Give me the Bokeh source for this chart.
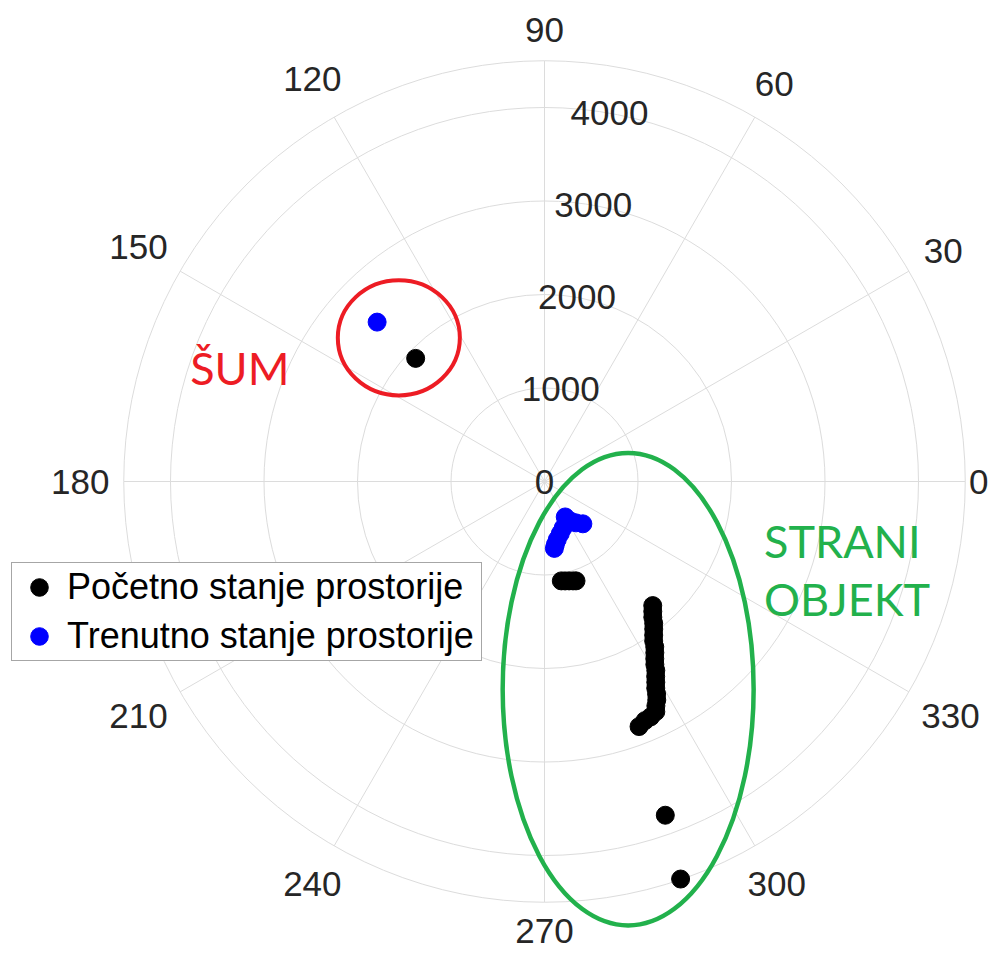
import numpy as np
from bokeh.plotting import figure
from bokeh.models import Range1d, Legend, LegendItem
from bokeh.core.properties import value
from bokeh.embed import file_html
from bokeh.resources import INLINE

# ---------------- data ----------------
theta_ticks = [0, 30, 60, 90, 120, 150, 180, 210, 240, 270, 300, 330]
theta_labels = [str(t) for t in theta_ticks]
r_ticks = [0, 1000, 2000, 3000, 4000]
r_labels = ["0", "1000", "2000", "3000", "4000"]
r_max = 4500
r_label_angle = 80

# "Početno stanje prostorije" (black) — angle in degrees, distance
pocetno_theta = [136.3,
                 279.6, 281.7, 283.9, 286.0, 287.6,
                 311.1, 309.8, 308.6, 307.6, 306.5, 305.4, 304.4, 303.7, 302.8,
                 301.9, 301.1, 300.5, 299.7, 299.0, 298.3, 297.8, 297.2, 296.4,
                 295.8, 294.3, 292.8, 291.1,
                 289.9, 288.9]
pocetno_r = [1906,
             1078, 1086, 1095, 1106, 1115,
             1761, 1809, 1857, 1914, 1964, 2016, 2067, 2125, 2178,
             2232, 2285, 2345, 2400, 2455, 2510, 2571, 2627, 2679,
             2735, 2761, 2774, 2809,
             3796, 4494]

# "Trenutno stanje prostorije" (blue)
trenutno_theta = [136.4, 300.3, 303.0, 307.3, 312.2, 292.0, 286.8, 282.4, 279.8, 278.4]
trenutno_r = [2472, 439, 502, 556, 611, 534, 583, 636, 684, 723]

series_names = ["Početno stanje prostorije", "Trenutno stanje prostorije"]
series_colors = ["#000000", "#0000ff"]

# ---------------- layout ----------------
W, H = 991, 952
CX, CY = 544, 481          # pixel position of the pole inside the figure
S = 0.0935                 # pixels per data unit
GRID = "#dcdcdc"
TXT = "#262626"
FONT = "Liberation Sans"

p = figure(width=W, height=H, output_backend="svg", toolbar_location=None,
           x_range=Range1d(-CX / S, (W - CX) / S),
           y_range=Range1d(-(H - CY) / S, CY / S),
           x_axis_type=None, y_axis_type=None, min_border=0)
p.grid.visible = False
p.outline_line_color = None
p.background_fill_color = "white"
p.border_fill_color = "white"


def pol2cart(th, r):
    th = np.deg2rad(np.asarray(th, dtype=float))
    r = np.asarray(r, dtype=float)
    return r * np.cos(th), r * np.sin(th)


# grid rings
rings = [r for r in r_ticks if r > 0] + [r_max]
p.circle(x=[0] * len(rings), y=[0] * len(rings), radius=rings,
         fill_color=None, line_color=GRID, line_width=1)
# spokes
sx, sy = pol2cart(theta_ticks, [r_max] * len(theta_ticks))
p.segment(x0=[0] * len(theta_ticks), y0=[0] * len(theta_ticks), x1=sx, y1=sy,
          line_color=GRID, line_width=1)

# angle labels (placed just outside the outer ring, kept inside the canvas)
lx, ly = [], []
for t, lab in zip(theta_ticks, theta_labels):
    w = 19.5 * len(lab)
    h = 34
    c, s_ = np.cos(np.deg2rad(t)), np.sin(np.deg2rad(t))
    rp = 435 + 0.5 * (w * abs(c) + h * abs(s_))
    px_x = CX + rp * c
    px_y = CY - rp * s_
    px_x = min(max(px_x, w / 2 + 2), W - w / 2 - 3)
    px_y = min(max(px_y, 22), H - 22)
    lx.append((px_x - CX) / S)
    ly.append((CY - px_y) / S)
p.text(x=lx, y=ly, text=theta_labels, text_align="center", text_baseline="middle",
       text_font=value(FONT), text_font_size="35px", text_color=TXT)

# radial labels
rx, ry = pol2cart([r_label_angle] * len(r_ticks), r_ticks)
p.text(x=rx, y=ry, text=r_labels, text_align="center", text_baseline="middle",
       text_font=value(FONT), text_font_size="35px", text_color=TXT)

# annotations (hand-drawn marks in the original); positions in reference pixels
def ref2data(xr, yr):
    return (xr - 552) / 0.095, (489 - yr) / 0.095

ex, ey = ref2data(404, 343)
p.ellipse(x=[ex], y=[ey], width=[124 / 0.095], height=[117 / 0.095],
          fill_color=None, line_color="#ed1c24", line_width=4)
ex, ey = ref2data(637, 700)
p.ellipse(x=[ex], y=[ey], width=[255 / 0.095], height=[480 / 0.095],
          fill_color=None, line_color="#22b14c", line_width=4.5)

tx0, ty0 = ref2data(192, 374)
p.text(x=[tx0], y=[ty0], text=["ŠUM"],
       text_font=value("Lato"), text_font_size="45px", text_color="#ed1c24",
       text_align="left", text_baseline="middle")
sx0, sy0 = ref2data(775, 549)
sx1, sy1 = ref2data(775, 608)
p.text(x=[sx0, sx1], y=[sy0, sy1], text=["STRANI", "OBJEKT"],
       text_font=value("Lato"), text_font_size="45px", text_color="#22b14c",
       text_align="left", text_baseline="middle")

# data points
bx, by = pol2cart(pocetno_theta, pocetno_r)
tx, ty = pol2cart(trenutno_theta, trenutno_r)
r1 = p.scatter(x=bx, y=by, size=18, color=series_colors[0])
r2 = p.scatter(x=tx, y=ty, size=18, color=series_colors[1])

legend = Legend(items=[LegendItem(label=series_names[0], renderers=[r1]),
                       LegendItem(label=series_names[1], renderers=[r2])],
                location=(11, 291), orientation="vertical",
                label_text_font=FONT, label_text_font_size="36px",
                label_text_color="#000000",
                glyph_width=50, glyph_height=44, label_height=44,
                label_standoff=3, label_width=412,
                padding=2, spacing=5, margin=0,
                border_line_color="#4d4d4d", border_line_width=1.5,
                background_fill_color="white", background_fill_alpha=1.0)
p.add_layout(legend)

open("out.html", "w").write(file_html(p, INLINE))
